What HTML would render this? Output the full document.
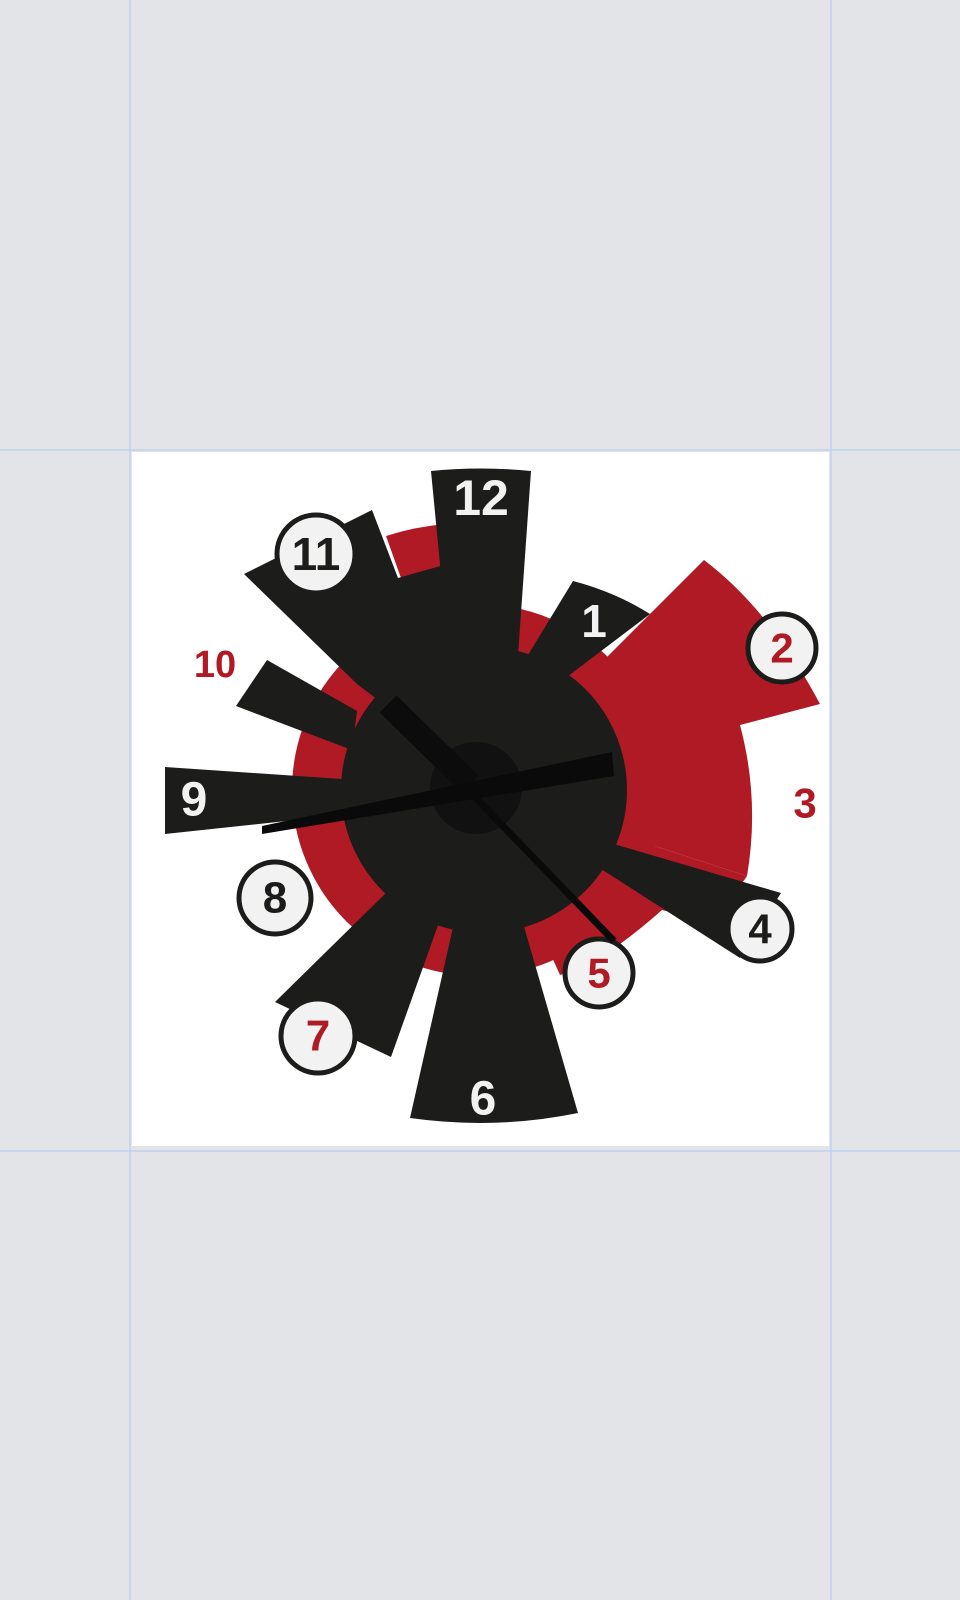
<!DOCTYPE html>
<html><head><meta charset="utf-8"><style>
html,body{margin:0;padding:0;background:#e2e4e7;width:960px;height:1600px;overflow:hidden}
svg{position:absolute;left:0;top:0}
text{font-family:"Liberation Sans",sans-serif;font-weight:900;text-anchor:middle;dominant-baseline:central}
</style></head><body>
<svg width="960" height="1600">
<line x1="130" y1="0" x2="130" y2="1600" stroke="#bccdef" stroke-width="1.2"/>
<line x1="831" y1="0" x2="831" y2="1600" stroke="#bccdef" stroke-width="1.2"/>
<line x1="0" y1="450" x2="960" y2="450" stroke="#bccdef" stroke-width="1.2"/>
<line x1="0" y1="1151" x2="960" y2="1151" stroke="#bccdef" stroke-width="1.2"/>
<g>
<rect x="132" y="452" width="697" height="694" fill="#fff"/>
<g fill="#b01a25">
<circle cx="478" cy="790" r="186"/>
<path d="M476,788 L386,536 A268,268 0 0 1 446,524 Z"/>
<path d="M476,788 L704,560 Q770,610 820,704 L740,725 Q760,800 747,876 Z"/>
<path d="M476,788 L747,876 Q715,925 662,910 Q600,965 560,975 Z"/>
</g>
<g fill="#1c1c1a">
<circle cx="484" cy="790" r="143"/>
<path d="M431,471 Q481,466 531,471 L514,712 L455,720 Z"/>
<path d="M244,574 L372,510 L398,578 L470,770 L357,684 Z"/>
<path d="M398,578 L444,565 L455,720 L440,760 Z"/>
<path d="M573,581 Q615,592 650,614 L522,711 L497,706 Z"/>
<path d="M781,893 L740,958 L573,851 L590,837 Z"/>
<path d="M410,1118 Q495,1130 578,1113 L512,885 L456,914 Z"/>
<path d="M275,1002 L391,1057 L442,914 L391,888 Z"/>
<path d="M165,767 L165,834 L342,815 L342,779 Z"/>
<path d="M267,660 L236,706 L352,750 L357,711 Z"/>
</g>
<circle cx="476" cy="788" r="46" fill="#111"/>
<g>
<circle cx="316" cy="554" r="39" fill="#f2f2f2" stroke="#1c1c1a" stroke-width="5"/>
<circle cx="782" cy="648" r="34" fill="#f2f2f2" stroke="#1c1c1a" stroke-width="5"/>
<circle cx="760" cy="929" r="32" fill="#f2f2f2" stroke="#1c1c1a" stroke-width="5"/>
<circle cx="599" cy="973" r="34" fill="#f2f2f2" stroke="#1c1c1a" stroke-width="5"/>
<circle cx="318" cy="1036" r="37" fill="#f2f2f2" stroke="#1c1c1a" stroke-width="5"/>
<circle cx="275" cy="898" r="36" fill="#f2f2f2" stroke="#1c1c1a" stroke-width="5"/>
</g>
<g>
<text x="481" y="498" font-size="50" fill="#f2f2f2">12</text>
<text x="594" y="621" font-size="46" fill="#f2f2f2">1</text>
<text x="782" y="648" font-size="42" fill="#b01a25">2</text>
<text x="805" y="803" font-size="42" fill="#b01a25">3</text>
<text x="760" y="929" font-size="42" fill="#1c1c1a">4</text>
<text x="599" y="973" font-size="42" fill="#b01a25">5</text>
<text x="483" y="1099" font-size="48" fill="#f2f2f2">6</text>
<text x="318" y="1036" font-size="44" fill="#b01a25">7</text>
<text x="275" y="898" font-size="44" fill="#1c1c1a">8</text>
<text x="194" y="800" font-size="48" fill="#f2f2f2">9</text>
<text x="215" y="665" font-size="38" fill="#b01a25">10</text>
<text x="316" y="554" font-size="46" fill="#1c1c1a">11</text>
</g>
<g>
<line x1="388" y1="704" x2="470" y2="784" stroke="#0c0c0c" stroke-width="24"/>
<path d="M262,826 L612,752 L614,776 L262,834 Z" fill="#0a0a0a"/>
<line x1="470" y1="792" x2="614" y2="941" stroke="#0a0a0a" stroke-width="7"/>
</g>
</g>
</svg>
</body></html>
